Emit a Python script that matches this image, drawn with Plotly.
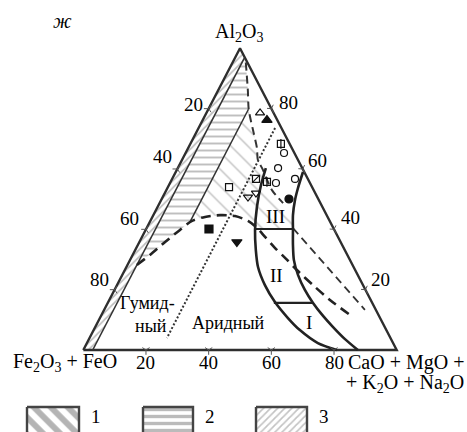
import plotly.graph_objects as go

# Compositions are given as (C, A) in percent:
#   C = CaO + MgO + K2O + Na2O, A = Al2O3, Fe2O3 + FeO = 100 - C - A
tick_values = [20, 40, 60, 80]

zone3_c = [0, 0, 3, 3]
zone3_a = [0, 100, 97, 0]

zone2_c = [3, 3, 4.2, 9.4, 12.8, 12.8, 10.95, 8.2, 5.5, 3]
zone2_a = [28.2, 96.5, 95.3, 86.2, 79.8, 42.5, 39.8, 35.8, 31.5, 28.2]

zone1_c = [12.8, 12.8, 17.7, 21.9, 24.2, 26.9, 33.7, 39.4, 44.55, 46.9, 34.8,
           31.15, 26.2, 21.3, 16.8, 12.8]
zone1_a = [42.5, 79.8, 72.9, 67.0, 63.0, 60.3, 53.0, 48.7, 44.7, 40.1, 40.1,
           42.8, 44.4, 44.7, 44.1, 42.5]

line3_c = [3, 3]
line3_a = [0, 97]
line13_c = [12.8, 12.8]
line13_a = [42.5, 79.8]

upper_dash_c = [4.2, 9.4, 13.0, 17.7, 21.9, 24.2, 26.9, 33.7, 39.4]
upper_dash_a = [95.3, 86.2, 79.6, 72.9, 67.0, 63.0, 60.3, 53.0, 48.7]

main_dash_c = [3.0, 5.5, 8.2, 10.95, 13.3, 16.8, 21.3, 26.2, 31.15, 34.7, 39.25,
               44.3, 49.6, 54.9, 62.55, 70.4, 80.6]
main_dash_a = [28.2, 31.5, 35.8, 39.8, 42.8, 44.1, 44.7, 44.4, 42.8, 40.8, 37.5,
               33.8, 30.2, 26.5, 21.5, 16.6, 10.9]

thin_dash_c = [46.7, 83.2]
thin_dash_a = [40.4, 13.3]

dotted_c = [24.4, 24.7]
dotted_a = [73.6, 4.0]

left_curve_c = [28.1, 29.35, 31.7, 34.9, 38.5, 42.0, 47.2, 53.2, 60.0, 65.8, 73.7, 80.9]
left_curve_a = [60.3, 54.7, 47.4, 39.8, 33.1, 27.5, 21.5, 15.9, 10.6, 6.6, 2.3, 0.0]

right_curve_c = [40.6, 41.65, 42.7, 44.55, 47.0, 49.5, 52.3, 56.05, 60.75, 65.5,
                 70.85, 75.9, 81.7, 87.6]
right_curve_a = [59.0, 53.7, 49.7, 44.7, 39.8, 34.8, 29.8, 24.9, 19.9, 15.6,
                 11.3, 7.6, 3.6, 0.0]

bound_III_c = [34.8, 46.9]
bound_III_a = [40.1, 40.1]
bound_I_c = [53.0, 65.5]
bound_I_a = [15.6, 15.6]

# sample points
open_tri_up_c, open_tri_up_a = [17.1], [78.6]
tri_up_c, tri_up_a = [20.5], [76.2]
sq_bar_c, sq_bar_a = [28.9, 30.75], [68.3, 55.7]
open_circ_c, open_circ_a = [31.4, 32.0, 39.2, 33.8], [65.3, 60.3, 56.7, 55.35]
sq_slash_c, sq_slash_a = [26.75], [56.7]
open_sq_c, open_sq_a = [19.5], [54.0]
open_tri_dn_c, open_tri_dn_a = [27.2, 29.1], [50.7, 52.0]
circ_c, circ_a = [40.6], [50.05]
sq_c, sq_a = [20.05], [40.1]
tri_dn_c, tri_dn_a = [31.1], [35.8]

W, H = 467, 432
# pixel frame of the triangle
X0, XS = 83.3, 313.4      # left corner x, base length
Y0, YS = 350.0, 301.7     # base y, height


def xy(c_list, a_list):
    xs = [c / 100 + a / 200 for c, a in zip(c_list, a_list)]
    ys = [a / 100 for a in a_list]
    return xs, ys


def paper(px, py):
    return px / W, 1 - py / H


fig = go.Figure()


def polygon(c, a, shape, size, solidity, color):
    x, y = xy(c, a)
    fig.add_trace(go.Scatter(
        x=x, y=y, mode="lines", fill="toself", line=dict(width=0),
        fillcolor="rgba(0,0,0,0)",
        fillpattern=dict(shape=shape, size=size, solidity=solidity,
                         fgcolor=color, bgcolor="rgba(255,255,255,0)"),
        hoverinfo="skip"))


polygon(zone3_c, zone3_a, "/", 5, 0.34, "#7a7a7a")
polygon(zone2_c, zone2_a, "-", 7, 0.28, "#808080")
polygon(zone1_c, zone1_a, "\\", 12, 0.12, "#858585")


def line(c, a, width, color="#222", dash="solid"):
    x, y = xy(c, a)
    fig.add_trace(go.Scatter(x=x, y=y, mode="lines",
                             line=dict(width=width, color=color, dash=dash),
                             hoverinfo="skip"))


def smooth(c, a, width, color="#222", dash="solid"):
    x, y = xy(c, a)
    fig.add_trace(go.Scatter(x=x, y=y, mode="lines",
                             line=dict(width=width, color=color, dash=dash,
                                       shape="spline", smoothing=0.8),
                             hoverinfo="skip"))


# triangle frame
line([0, 100, 0, 0], [0, 0, 100, 0], 2.4, "#2e2e2e")
line(line3_c, line3_a, 1.6, "#333")
line(line13_c, line13_a, 1.5, "#333")

smooth(upper_dash_c, upper_dash_a, 2.0, "#333", "8px,5px")
smooth(main_dash_c, main_dash_a, 2.6, "#222", "10px,6px")
line(thin_dash_c, thin_dash_a, 1.8, "#333", "8px,5px")
line(dotted_c, dotted_a, 2.0, "#333", "2px,2px")

smooth(left_curve_c, left_curve_a, 2.6)
smooth(right_curve_c, right_curve_a, 2.6)
line(bound_III_c, bound_III_a, 2.2)
line(bound_I_c, bound_I_a, 2.2)

# edge ticks
bx, by = xy(tick_values, [0] * 4)
lx, ly = xy([0] * 4, [100 - v for v in tick_values])
rx, ry = xy([100 - v for v in tick_values], tick_values)
for tx, ty, ang in ((bx, by, 0), (lx, ly, 90), (rx, ry, -30)):
    fig.add_trace(go.Scatter(x=tx, y=ty, mode="markers",
                             marker=dict(symbol="y-down", size=6, angle=ang,
                                         line=dict(width=1, color="#555")),
                             hoverinfo="skip"))


def points(c, a, symbol, size=8):
    x, y = xy(c, a)
    fig.add_trace(go.Scatter(
        x=x, y=y, mode="markers",
        marker=dict(symbol=symbol, size=size, color="#111",
                    line=dict(width=1.2, color="#111")),
        hoverinfo="skip"))


points(open_tri_up_c, open_tri_up_a, "triangle-up-open", 8)
points(tri_up_c, tri_up_a, "triangle-up", 9)
points(sq_bar_c, sq_bar_a, "square-open", 7)
points(sq_bar_c, sq_bar_a, "line-ns-open", 7)
points(open_circ_c, open_circ_a, "circle-open", 7)
points(sq_slash_c, sq_slash_a, "square-open", 7)
points(sq_slash_c, sq_slash_a, "line-ne-open", 7)
points(open_sq_c, open_sq_a, "square-open", 7)
points(open_tri_dn_c, open_tri_dn_a, "triangle-down-open", 8)
points(circ_c, circ_a, "circle", 8)
points(sq_c, sq_a, "square", 8)
points(tri_dn_c, tri_dn_a, "triangle-down", 9)

# legend swatches (drawn in the same frame, below the triangle)
legend_px = [(27, 79), (143, 193), (256, 307)]
legend_patterns = [("\\", 12, 0.5, "#6a6a6a"), ("-", 7, 0.48, "#777"), ("/", 5, 0.34, "#888")]
legend_labels = ["1", "2", "3"]
for (x0p, x1p), (shp, sz, sol, col) in zip(legend_px, legend_patterns):
    xs = [(x0p - X0) / XS, (x1p - X0) / XS]
    y_top = (Y0 - 407) / YS
    y_bot = (Y0 - 445) / YS
    fig.add_trace(go.Scatter(
        x=[xs[0], xs[1], xs[1], xs[0], xs[0]],
        y=[y_top, y_top, y_bot, y_bot, y_top], mode="lines", fill="toself",
        fillcolor="rgba(0,0,0,0)",
        fillpattern=dict(shape=shp, size=sz, solidity=sol, fgcolor=col,
                         bgcolor="rgba(255,255,255,0)"),
        line=dict(width=2.4, color="#444"), hoverinfo="skip"))

SERIF = "Liberation Serif"
ann = []


def text_paper(px, py, s, size=19, xanchor="center"):
    x, y = paper(px, py)
    ann.append(dict(x=x, y=y, xref="paper", yref="paper", text=s, showarrow=False,
                    xanchor=xanchor, yanchor="middle",
                    font=dict(family=SERIF, size=size, color="#000")))


def text_data(x, y, s, dx=0, dy=0, size=19):
    ann.append(dict(x=x, y=y, text=s, showarrow=False, xshift=dx, yshift=dy,
                    xanchor="center", yanchor="middle",
                    font=dict(family=SERIF, size=size, color="#000")))


# tick labels
left_shift = [(-15, 4), (-15, 12), (-16, 11), (-15, 10)]
right_shift = [(15, 10), (16, 12), (15, 8), (17, 6)]
for i, v in enumerate(tick_values):
    text_data(bx[i], by[i], str(v), 0, -12)
    text_data(lx[i], ly[i], str(v), *left_shift[i])
    text_data(rx[i], ry[i], str(v), *right_shift[i])

text_paper(238.5, 32, "Al<sub>2</sub>O<sub>3</sub>", 20)
text_paper(65, 362, "Fe<sub>2</sub>O<sub>3</sub> + FeO", 20)
text_paper(466, 362, "CaO + MgO +", 20, xanchor="right")
text_paper(466, 383, "+ K<sub>2</sub>O + Na<sub>2</sub>O", 20, xanchor="right")
text_paper(275, 217, "III", 19)
text_paper(276, 275, "II", 19)
text_paper(309, 322, "I", 19)
text_paper(147, 303, "Гумид-", 18)
text_paper(151, 326, "ный", 18)
text_paper(228, 323, "Аридный", 18)
text_paper(62, 21, "<i>ж</i>", 20)
for (x0p, x1p), lab in zip(legend_px, legend_labels):
    text_paper(x1p + 16.5, 416, lab, 19)

fig.update_layout(
    width=W, height=H, autosize=False, margin=dict(l=0, r=0, t=0, b=0),
    paper_bgcolor="white", plot_bgcolor="white", showlegend=False,
    xaxis=dict(range=[-X0 / XS, (W - X0) / XS], visible=False, fixedrange=True),
    yaxis=dict(range=[(Y0 - H) / YS, Y0 / YS], visible=False, fixedrange=True),
    annotations=ann,
)

fig.write_html("out.html", config={"displayModeBar": False})
